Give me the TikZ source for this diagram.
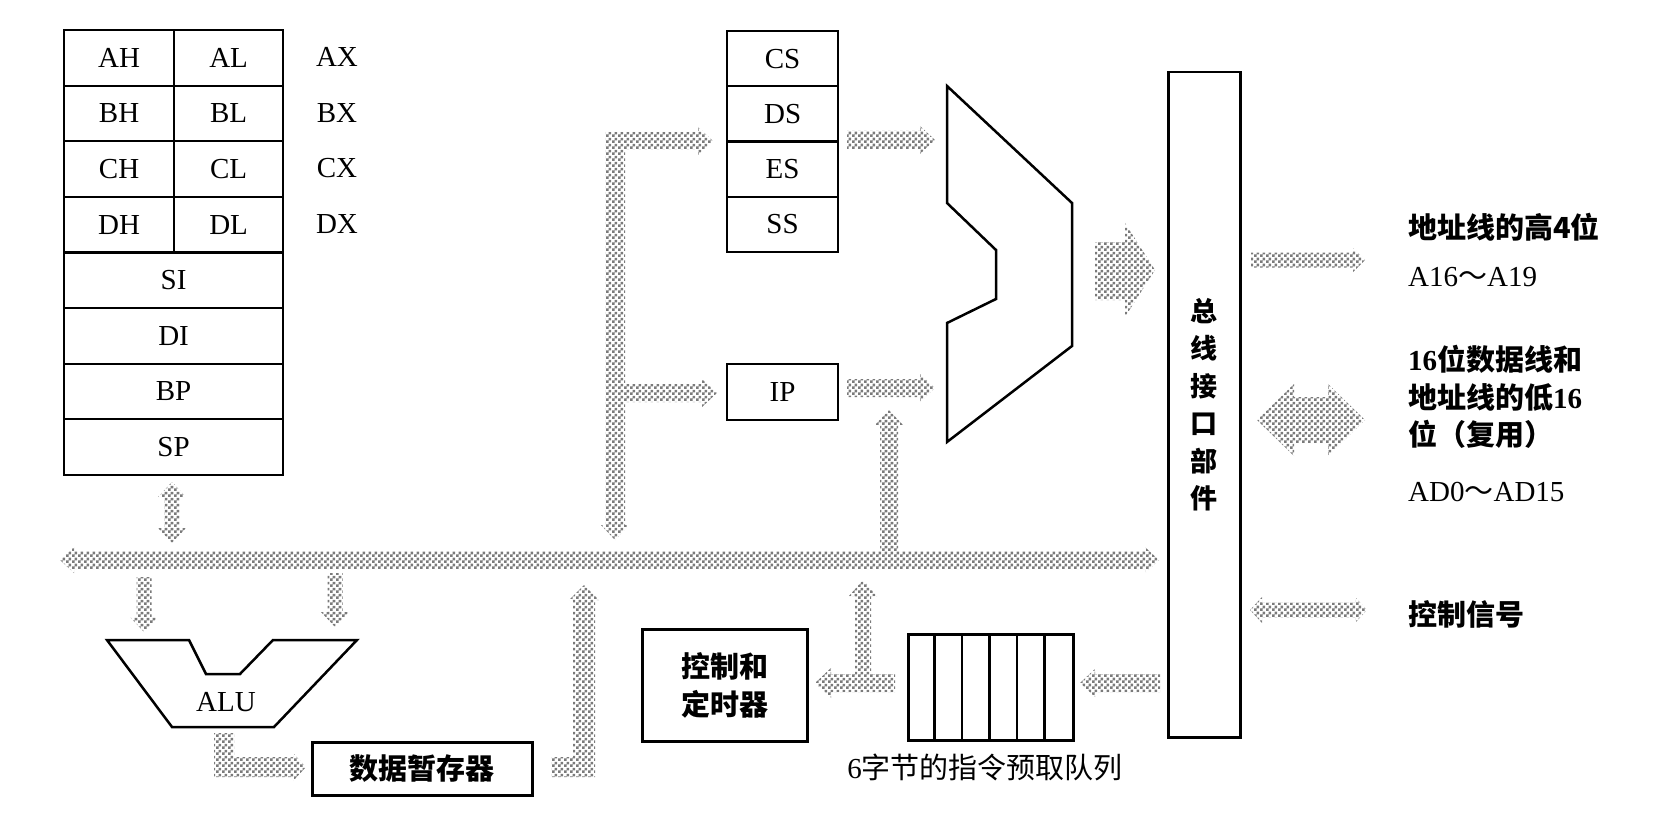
\documentclass[tikz,border=0pt]{standalone}
\usepackage{fontspec}
\setmainfont{Liberation Serif}
\newfontfamily\cjk{Noto Sans CJK SC}
\usetikzlibrary{patterns}
\pgfdeclarepatternformonly{checks}{\pgfpointorigin}{\pgfqpoint{6pt}{6pt}}{\pgfqpoint{6pt}{6pt}}{
  \pgfpathrectangle{\pgfpointorigin}{\pgfqpoint{3pt}{3pt}}
  \pgfpathrectangle{\pgfqpoint{3pt}{3pt}}{\pgfqpoint{3pt}{3pt}}
  \pgfusepath{fill}
}
\newcommand{\latsize}{\fontsize{29pt}{35pt}\selectfont}
\newcommand{\hei}{\cjk\bfseries\fontsize{29pt}{37.5pt}\selectfont}

\begin{document}
\begin{tikzpicture}[x=1pt,y=-1pt,
    reg/.style={draw, line width=2.2pt, inner sep=0pt, anchor=north west, minimum height=55.6pt, font=\latsize},
    box/.style={draw, line width=2.5pt, inner sep=0pt, anchor=north west},
    bus/.style={pattern=checks, pattern color=black!52},
    lbl/.style={anchor=west, inner sep=0pt, font=\hei}]
    \useasboundingbox (0,0) rectangle (1673,821);

    % general registers
    \foreach \g [count=\i from 0] in {A,B,C,D}{
        \node[reg, minimum width=110pt] (\g H) at (63,{29+55.6*\i}) {\g H};
        \node[reg, minimum width=109pt] (\g L) at (173,{29+55.6*\i}) {\g L};
        \node[font=\latsize] (\g X) at (337,{57+55.6*\i}) {\g X};
    }
    \foreach \g [count=\i from 4] in {SI,DI,BP,SP}{
        \node[reg, minimum width=219pt] (\g) at (63,{29+55.6*\i}) {\g};
    }

    % segment registers and IP
    \foreach \g [count=\i from 0] in {CS,DS,ES,SS}{
        \node[reg, minimum width=111pt, minimum height=55.2pt] (\g) at (726,{30+55.2*\i}) {\g};
    }
    \node[reg, minimum width=111pt, minimum height=56pt] (IP) at (726,363) {IP};

    % address adder and ALU
    \draw[line width=2.5pt] (947,86)--(1072,203)--(1072,346)--(947,442)--(947,323)--(996,299)--(996,250)--(947,203)--cycle;
    \draw[line width=2.5pt] (107,640)--(189,640)--(206,674)--(240,674)--(273,640)--(357,640)--(274,727)--(172,727)--cycle;
    \node[font=\latsize] (ALU) at (226,702) {ALU};

    % boxes
    \node[box, minimum width=72pt, minimum height=665pt] (BIU) at (1167,71) {};
    \node[font=\cjk\bfseries\fontsize{27pt}{37.5pt}\selectfont, align=center] (BIUtext) at (BIU.center) {总\\线\\接\\口\\部\\件};
    \node[box, minimum width=220pt, minimum height=53pt, font=\hei] (temp) at (311,741) {数据暂存器};
    \node[box, minimum width=165pt, minimum height=112pt, font=\hei, align=center] (ctrl) at (641,628) {控制和\\定时器};
    \node[box, minimum width=165pt, minimum height=106pt] (queue) at (907,633) {};
    \foreach \k in {1,...,5}{
        \draw[line width=2.2pt] ({907+27.5*\k},633)--({907+27.5*\k},739);
    }
    \node[font=\cjk\fontsize{29pt}{35pt}\selectfont] (qlabel) at (985,767) {{\rmfamily 6}字节的指令预取队列};

    % pins
    \node[lbl] (high) at (1408,227) {地址线的高4位};
    \node[lbl, font=\latsize] (A16) at (1408,277) {A16{\cjk ～}A19};
    \node[lbl, align=left] (low) at (1408,397) {{\rmfamily 16}位数据线和\\地址线的低{\rmfamily 16}\\位（复用）};
    \node[lbl, font=\latsize] (AD0) at (1408,492) {AD0{\cjk ～}AD15};
    \node[lbl] (sig) at (1408,614) {控制信号};

    % internal bus
    \fill[bus] (60,560)--(74,547)--(74,551)--(1145,551)--(1145,547)--(1159,560)--(1145,573)--(1145,569)--(74,569)--(74,573)--cycle;
    \fill[bus] (880,551)--(880,425)--(875,425)--(889,410)--(903,425)--(898,425)--(898,551)--cycle;
    \fill[bus] (172,482)--(186,497)--(179.5,497)--(179.5,528)--(186,528)--(172,543)--(158,528)--(164.5,528)--(164.5,497)--(158,497)--cycle;
    \foreach \x/\a/\b in {144/577/632,335/573/627}{
        \fill[bus] (\x-7.5,\a)--(\x+7.5,\a)--(\x+7.5,\b-15)--(\x+14,\b-15)--(\x,\b)--(\x-14,\b-15)--(\x-7.5,\b-15)--cycle;
    }
    \fill[bus] (214,733)--(234,733)--(234,757)--(293,757)--(293,753)--(306,767)--(293,781)--(293,777)--(214,777)--cycle;
    \fill[bus] (551,777)--(595,777)--(595,600)--(599,600)--(584,585)--(569,600)--(573,600)--(573,757)--(551,757)--cycle;
    \fill[bus] (605,132)--(698,132)--(698,127)--(713,141)--(698,155)--(698,150)--(625,150)--(625,384)--(702,384)--(702,379)--(717,393)--(702,407)--(702,402)--(625,402)--(625,525)--(629,525)--(615,540)--(601,525)--(605,525)--cycle;
    \foreach \y in {140,388}{
        \fill[bus] (847,\y-9)--(920,\y-9)--(920,\y-14)--(935,\y)--(920,\y+14)--(920,\y+9)--(847,\y+9)--cycle;
    }
    \fill[bus] (1095,242)--(1125,242)--(1125,223)--(1155,270)--(1125,317)--(1125,300)--(1095,300)--cycle;
    \fill[bus] (1160,674)--(1095,674)--(1095,669)--(1080,683)--(1095,697)--(1095,692)--(1160,692)--cycle;
    \fill[bus] (895,674)--(871,674)--(871,596)--(877,596)--(863,580)--(849,596)--(855,596)--(855,674)--(831,674)--(831,668)--(815,683)--(831,698)--(831,692)--(895,692)--cycle;

    % external bus
    \fill[bus] (1251,252.5)--(1353,252.5)--(1353,248)--(1365,260)--(1353,272)--(1353,267.5)--(1251,267.5)--cycle;
    \fill[bus] (1257,420)--(1294,384)--(1294,397)--(1328,397)--(1328,384)--(1365,420)--(1328,456)--(1328,443)--(1294,443)--(1294,456)--cycle;
    \fill[bus] (1250,610)--(1262,597)--(1262,602.5)--(1355,602.5)--(1355,597)--(1367,610)--(1355,623)--(1355,617.5)--(1262,617.5)--(1262,623)--cycle;
\end{tikzpicture}
\end{document}
